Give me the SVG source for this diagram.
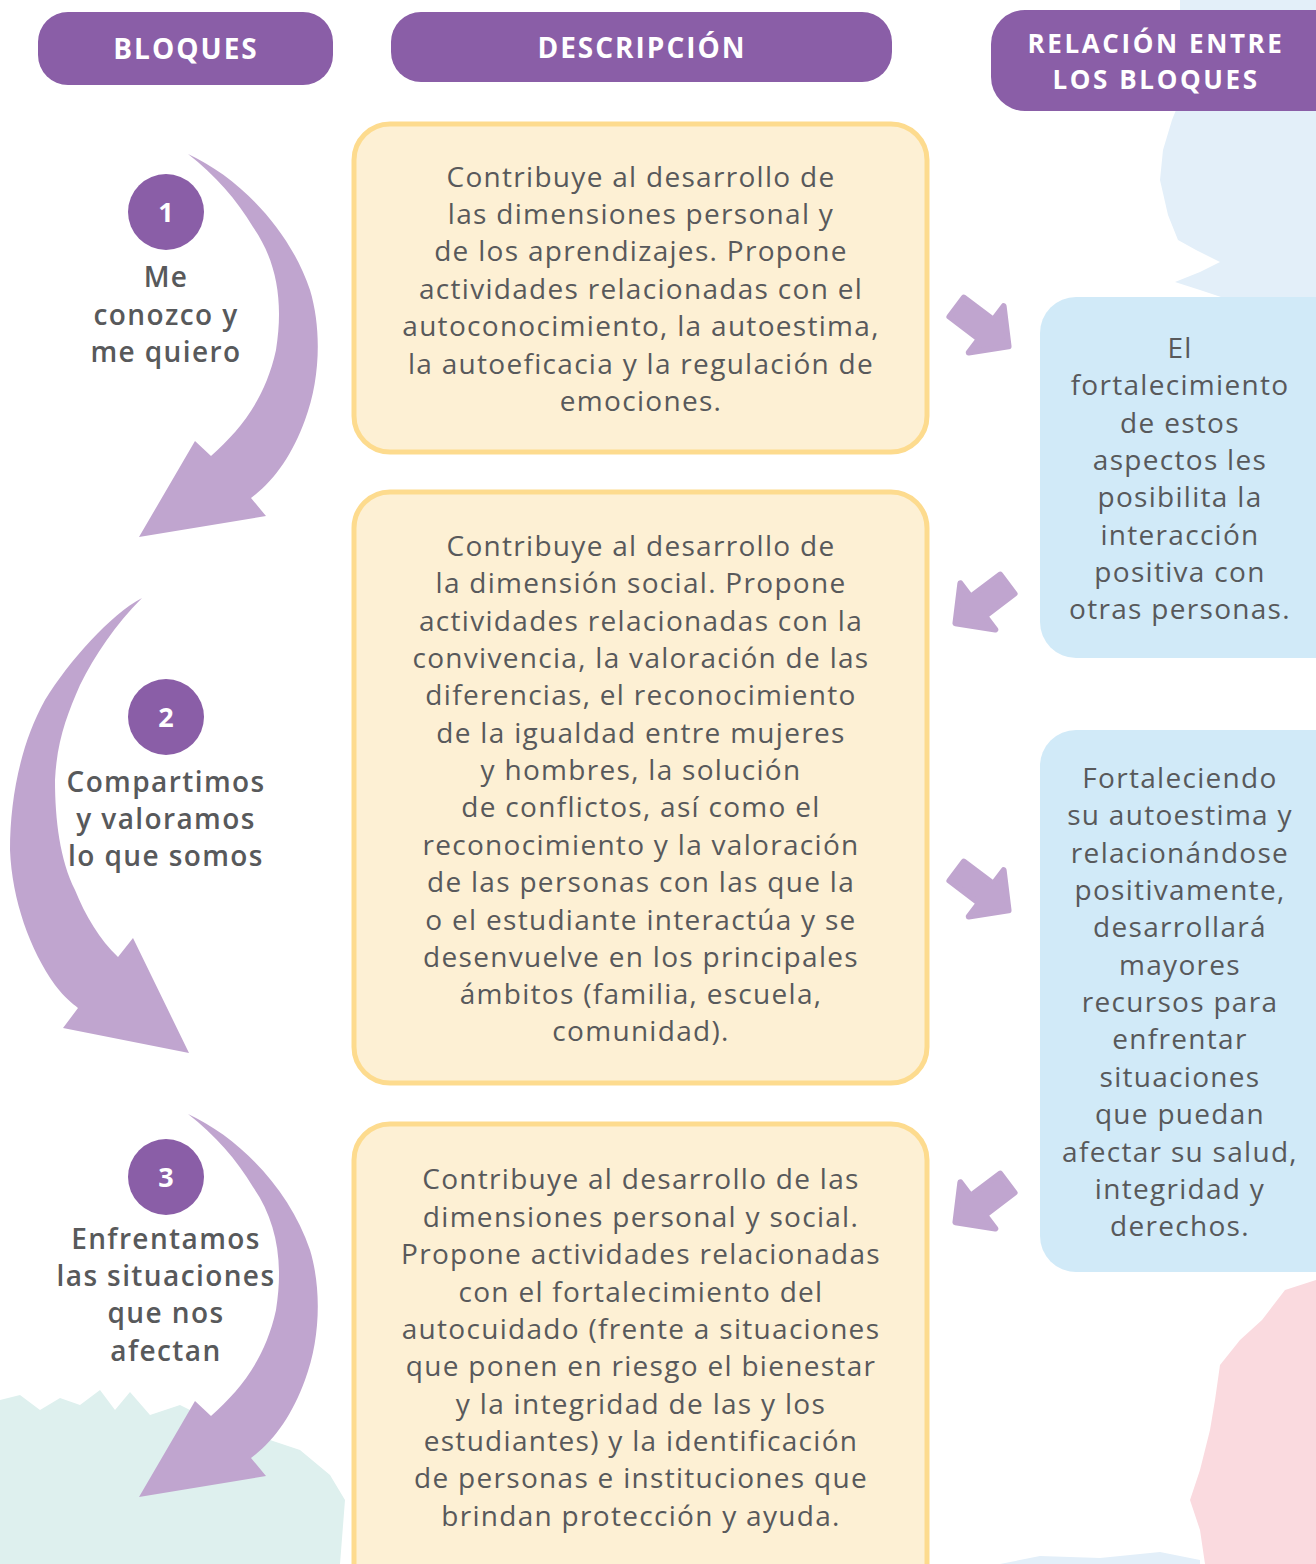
<svg xmlns="http://www.w3.org/2000/svg" width="1316" height="1564" viewBox="0 0 1316 1564">
<style>
.hdr{fill:#8A5EA7}
.hdrt{font-family:"Open Sans","Liberation Sans",sans-serif;font-weight:700;font-size:28px;fill:#ffffff;text-anchor:middle;letter-spacing:2px}
.hdrs{font-family:"Open Sans","Liberation Sans",sans-serif;font-weight:700;font-size:26px;fill:#ffffff;text-anchor:middle;letter-spacing:2.6px}
.desc{fill:#FDF0D4;stroke:#FDDB8E;stroke-width:5}
.rel{fill:#D1EAF8}
.body{font-family:"Open Sans","Liberation Sans",sans-serif;font-weight:400;font-size:28px;fill:#58595B;text-anchor:middle;letter-spacing:1.3px}
.lbl{font-family:"Open Sans","Liberation Sans",sans-serif;font-weight:600;font-size:28px;fill:#58595B;text-anchor:middle;letter-spacing:1.4px}
.num{fill:#8A5EA7}
.numt{font-family:"Open Sans","Liberation Sans",sans-serif;font-weight:700;font-size:27px;fill:#ffffff;text-anchor:middle}
.arr{fill:#C0A5CF}
.sarr{fill:#C0A5CF;stroke:#C0A5CF;stroke-width:6;stroke-linejoin:round}
</style>
<defs>
<path id="curveA" d="M188,154 C240,178 290,230 310,290 C322,330 320,380 305,420 C292,455 275,480 251,498 L266,516 L139,537 L195,441 L211,456 C240,430 265,400 276,350 C284,300 276,260 253,227 C237,200 215,175 188,154 Z"/>
<polygon id="small" points="-33,-12 4,-12 4,-29 32,0 4,29 4,12 -33,12"/>
</defs>
<rect width="1316" height="1564" fill="#ffffff"/>
<g id="background">
<path d="M1180,0 L1316,0 L1316,300 L1230,300 L1200,290 L1175,282 L1200,272 L1220,262 L1196,250 L1178,240 L1168,215 L1160,180 L1163,150 L1172,120 L1180,100 Z" fill="#E3EFF9"/>
<path d="M1316,1280 L1285,1290 L1262,1320 L1240,1340 L1220,1365 L1215,1400 L1210,1430 L1200,1470 L1190,1500 L1200,1530 L1205,1564 L1316,1564 Z" fill="#FADADF"/>
<path d="M0,1400 L20,1395 L40,1410 L60,1398 L80,1405 L100,1390 L115,1410 L130,1392 L150,1415 L180,1405 L210,1420 L240,1425 L270,1440 L300,1450 L330,1475 L345,1500 L340,1564 L0,1564 Z" fill="#DEF0EE"/>
<path d="M1000,1564 L1040,1556 L1100,1558 L1160,1552 L1200,1560 L1200,1564 Z" fill="#E3EFF9"/>
</g>
<g id="header-bloques">
<rect class="hdr" x="38" y="12" width="295" height="73" rx="30"/>
<text class="hdrt" x="186" y="59">BLOQUES</text>
</g>
<g id="header-descripcion">
<rect class="hdr" x="391" y="12" width="501" height="70" rx="30"/>
<text class="hdrt" x="642" y="58">DESCRIPCIÓN</text>
</g>
<g id="header-relacion">
<rect class="hdr" x="991" y="10" width="360" height="101" rx="34"/>
<text class="hdrs" x="1156" y="53">RELACIÓN ENTRE</text>
<text class="hdrs" x="1156" y="89">LOS BLOQUES</text>
</g>
<g id="connectors">
<use href="#curveA" class="arr"/>
<path class="arr" d="M142,598 C110,615 70,660 45,700 C20,745 10,800 10,850 C12,900 30,950 55,985 C65,998 72,1003 78,1008 L63,1028 L189,1053 L133,938 L118,957 C100,940 85,915 75,890 C60,860 55,820 55,780 C57,740 67,715 80,685 C95,655 115,625 142,598 Z"/>
<use href="#curveA" class="arr" transform="translate(0,960)"/>
<use href="#small" class="sarr" transform="translate(983,327) rotate(37)"/>
<use href="#small" class="sarr" transform="translate(981,604) rotate(143)"/>
<use href="#small" class="sarr" transform="translate(983,891) rotate(37)"/>
<use href="#small" class="sarr" transform="translate(981,1203) rotate(143)"/>
</g>
<g id="bloque-1">
<circle class="num" cx="166" cy="212" r="38"/>
<text class="numt" x="166" y="222">1</text>
<text class="lbl" x="166" y="287">Me</text>
<text class="lbl" x="166" y="325">conozco y</text>
<text class="lbl" x="166" y="362">me quiero</text>
</g>
<g id="bloque-2">
<circle class="num" cx="166" cy="717" r="38"/>
<text class="numt" x="166" y="727">2</text>
<text class="lbl" x="166" y="792">Compartimos</text>
<text class="lbl" x="166" y="829">y valoramos</text>
<text class="lbl" x="166" y="866">lo que somos</text>
</g>
<g id="bloque-3">
<circle class="num" cx="166" cy="1177" r="38"/>
<text class="numt" x="166" y="1187">3</text>
<text class="lbl" x="166" y="1249">Enfrentamos</text>
<text class="lbl" x="166" y="1286">las situaciones</text>
<text class="lbl" x="166" y="1323">que nos</text>
<text class="lbl" x="166" y="1361">afectan</text>
</g>
<g id="descripcion-1">
<rect class="desc" x="354" y="124" width="573" height="328" rx="36"/>
<text class="body" x="641" y="187">Contribuye al desarrollo de</text>
<text class="body" x="641" y="224">las dimensiones personal y</text>
<text class="body" x="641" y="261">de los aprendizajes. Propone</text>
<text class="body" x="641" y="299">actividades relacionadas con el</text>
<text class="body" x="641" y="336">autoconocimiento, la autoestima,</text>
<text class="body" x="641" y="374">la autoeficacia y la regulación de</text>
<text class="body" x="641" y="411">emociones.</text>
</g>
<g id="descripcion-2">
<rect class="desc" x="354" y="492" width="573" height="591" rx="36"/>
<text class="body" x="641" y="556">Contribuye al desarrollo de</text>
<text class="body" x="641" y="593">la dimensión social. Propone</text>
<text class="body" x="641" y="631">actividades relacionadas con la</text>
<text class="body" x="641" y="668">convivencia, la valoración de las</text>
<text class="body" x="641" y="705">diferencias, el reconocimiento</text>
<text class="body" x="641" y="743">de la igualdad entre mujeres</text>
<text class="body" x="641" y="780">y hombres, la solución</text>
<text class="body" x="641" y="817">de conflictos, así como el</text>
<text class="body" x="641" y="855">reconocimiento y la valoración</text>
<text class="body" x="641" y="892">de las personas con las que la</text>
<text class="body" x="641" y="930">o el estudiante interactúa y se</text>
<text class="body" x="641" y="967">desenvuelve en los principales</text>
<text class="body" x="641" y="1004">ámbitos (familia, escuela,</text>
<text class="body" x="641" y="1041">comunidad).</text>
</g>
<g id="descripcion-3">
<rect class="desc" x="354" y="1124" width="573" height="480" rx="36"/>
<text class="body" x="641" y="1189">Contribuye al desarrollo de las</text>
<text class="body" x="641" y="1227">dimensiones personal y social.</text>
<text class="body" x="641" y="1264">Propone actividades relacionadas</text>
<text class="body" x="641" y="1302">con el fortalecimiento del</text>
<text class="body" x="641" y="1339">autocuidado (frente a situaciones</text>
<text class="body" x="641" y="1376">que ponen en riesgo el bienestar</text>
<text class="body" x="641" y="1414">y la integridad de las y los</text>
<text class="body" x="641" y="1451">estudiantes) y la identificación</text>
<text class="body" x="641" y="1488">de personas e instituciones que</text>
<text class="body" x="641" y="1526">brindan protección y ayuda.</text>
</g>
<g id="relacion-1">
<rect class="rel" x="1040" y="297" width="320" height="361" rx="36"/>
<text class="body" x="1180" y="358">El</text>
<text class="body" x="1180" y="395">fortalecimiento</text>
<text class="body" x="1180" y="433">de estos</text>
<text class="body" x="1180" y="470">aspectos les</text>
<text class="body" x="1180" y="507">posibilita la</text>
<text class="body" x="1180" y="545">interacción</text>
<text class="body" x="1180" y="582">positiva con</text>
<text class="body" x="1180" y="619">otras personas.</text>
</g>
<g id="relacion-2">
<rect class="rel" x="1040" y="730" width="320" height="542" rx="36"/>
<text class="body" x="1180" y="788">Fortaleciendo</text>
<text class="body" x="1180" y="825">su autoestima y</text>
<text class="body" x="1180" y="863">relacionándose</text>
<text class="body" x="1180" y="900">positivamente,</text>
<text class="body" x="1180" y="937">desarrollará</text>
<text class="body" x="1180" y="975">mayores</text>
<text class="body" x="1180" y="1012">recursos para</text>
<text class="body" x="1180" y="1049">enfrentar</text>
<text class="body" x="1180" y="1087">situaciones</text>
<text class="body" x="1180" y="1124">que puedan</text>
<text class="body" x="1180" y="1162">afectar su salud,</text>
<text class="body" x="1180" y="1199">integridad y</text>
<text class="body" x="1180" y="1236">derechos.</text>
</g>
</svg>
